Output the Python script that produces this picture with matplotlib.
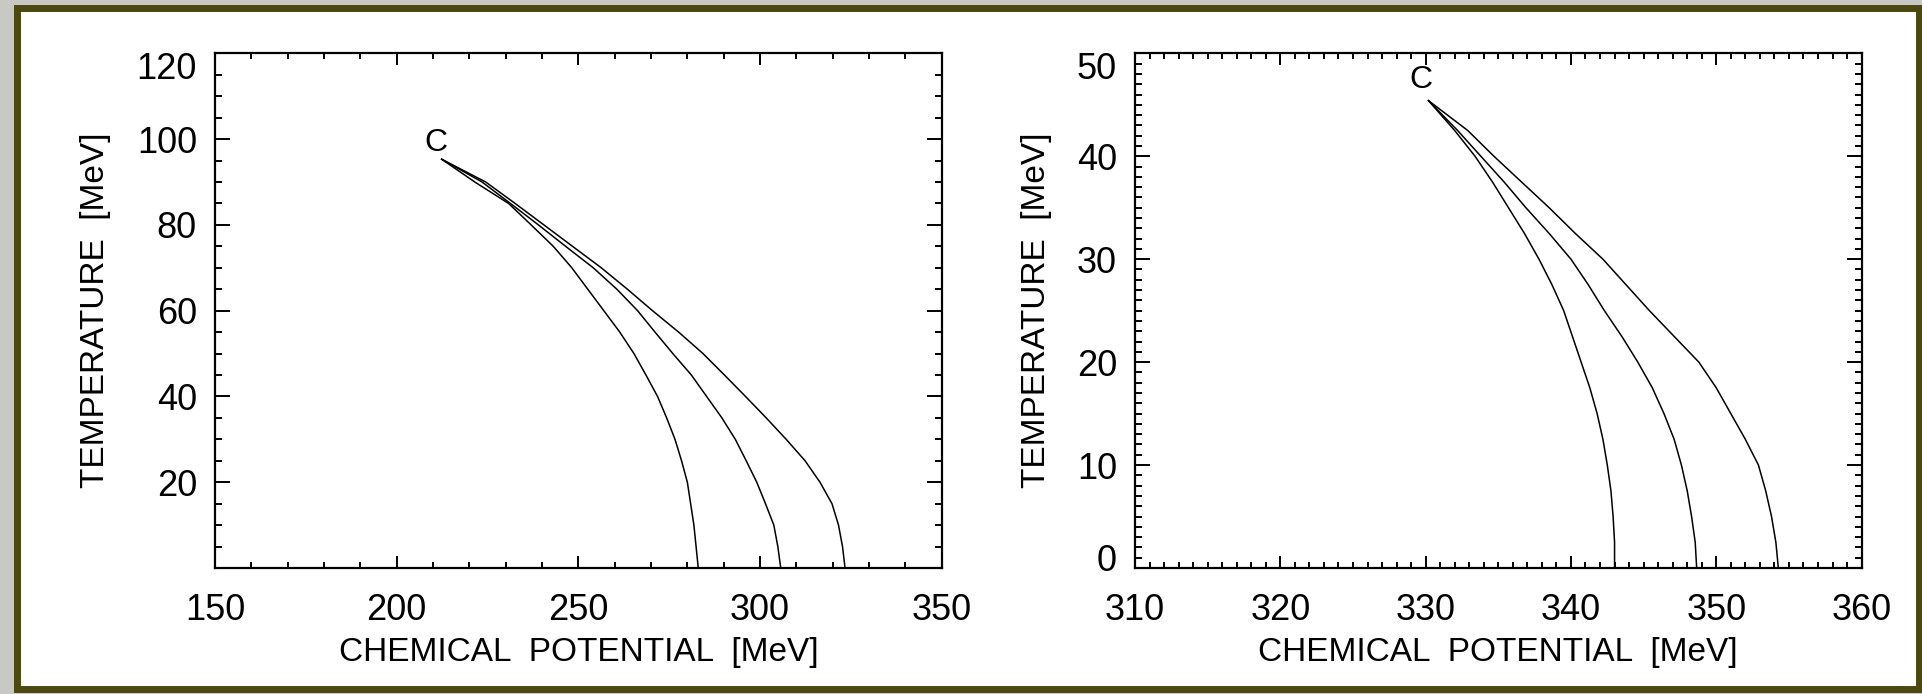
import matplotlib
matplotlib.use("Agg")
import matplotlib.pyplot as plt
from matplotlib.patches import Rectangle
from matplotlib.ticker import MultipleLocator
from matplotlib.transforms import ScaledTranslation

plt.rcParams['font.family'] = ['Liberation Sans', 'DejaVu Sans']

# phase boundaries, left panel (T in MeV, mu in MeV)
t_left = [95.3, 90, 85, 80, 75, 70, 65, 60, 55, 50, 45, 40, 35, 30, 25, 20, 15, 10, 5, 0]
mu_left_a = [212.4, 221.5, 230.8, 237.0, 243.1, 248.2, 252.6, 257.0, 261.4, 265.3, 268.6, 271.8,
             274.3, 276.6, 278.4, 280.0, 280.9, 281.8, 282.4, 283.0]
mu_left_b = [212.4, 223.5, 231.3, 239.0, 246.5, 254.1, 260.6, 266.3, 271.1, 276.0, 281.1, 285.3,
             289.5, 293.2, 296.2, 299.1, 301.5, 303.8, 304.9, 305.7]
mu_left_c = [212.4, 224.5, 232.6, 240.5, 248.4, 256.3, 263.5, 270.4, 277.6, 284.3, 290.2, 296.0,
             301.7, 307.2, 312.4, 316.5, 319.8, 321.6, 322.7, 323.4]
cep_left = (210.9, 99.0)

# right panel
t_right = [45.4, 42.5, 40, 37.5, 35, 32.5, 30, 27.5, 25, 22.5, 20, 17.5, 15, 12.5, 10, 7.5, 5, 2.5, 0]
mu_right_a = [330.2, 332.0, 333.4, 334.6, 335.7, 336.8, 337.8, 338.7, 339.5, 340.1, 340.7, 341.3,
              341.8, 342.2, 342.5, 342.75, 342.9, 343.0, 343.0]
mu_right_b = [330.2, 332.2, 333.8, 335.4, 336.9, 338.5, 340.0, 341.2, 342.3, 343.5, 344.6, 345.6,
              346.4, 347.1, 347.6, 348.0, 348.3, 348.55, 348.65]
mu_right_c = [330.2, 332.9, 334.7, 336.6, 338.5, 340.3, 342.2, 343.8, 345.4, 347.1, 348.8, 350.0,
              351.0, 352.0, 352.9, 353.4, 353.8, 354.1, 354.27]
cep_right = (329.7, 47.4)

xticks_left = [150, 200, 250, 300, 350]
yticks_left = [20, 40, 60, 80, 100, 120]
xticks_right = [310, 320, 330, 340, 350, 360]
yticks_right = [0, 10, 20, 30, 40, 50]

fig = plt.figure(figsize=(19.22, 6.94), dpi=100)
fig.set_facecolor('#c8c8c4')
fig.patches.append(Rectangle((0.00903, 0.0072), 0.98941, 0.98149, transform=fig.transFigure,
                             facecolor='white', edgecolor='#4b4910', linewidth=5, zorder=-10))

ax1 = fig.add_axes([0.11186, 0.18156, 0.3781, 0.7416])
ax2 = fig.add_axes([0.59053, 0.18156, 0.37805, 0.7416])


def style(ax, xminor, yminor):
    for s in ax.spines.values():
        s.set_linewidth(1.6)
    ax.xaxis.set_minor_locator(MultipleLocator(xminor))
    ax.yaxis.set_minor_locator(MultipleLocator(yminor))
    ax.tick_params(which='both', direction='in', top=True, right=True, width=1.4)
    ax.tick_params(axis='x', which='major', length=8.3, pad=18, labelsize=26)
    ax.tick_params(axis='x', which='minor', length=4.3)
    ax.tick_params(axis='y', which='major', length=10.8, pad=13, labelsize=26)
    ax.tick_params(axis='y', which='minor', length=5)
    ax.set_xlabel('CHEMICAL  POTENTIAL  [MeV]', fontsize=24)
    ax.set_ylabel('TEMPERATURE  [MeV]', fontsize=24)
    ax.xaxis.label.set_va('center')
    ax.yaxis.label.set_va('center')


for mu in (mu_left_a, mu_left_b, mu_left_c):
    ax1.plot(mu, t_left, color='black', lw=1.1)
ax1.text(*cep_left, 'C', fontsize=23, ha='center', va='center')
ax1.set_xlim(150, 350)
ax1.set_ylim(0, 120)
ax1.set_xticks(xticks_left)
ax1.set_yticks(yticks_left)
style(ax1, 10, 5)
ax1.xaxis.set_label_coords(0.5, -0.165)
ax1.yaxis.set_label_coords(-0.164, 0.5)

for mu in (mu_right_a, mu_right_b, mu_right_c):
    ax2.plot(mu, t_right, color='black', lw=1.1)
ax2.text(*cep_right, 'C', fontsize=23, ha='center', va='center')
ax2.set_xlim(310, 360)
ax2.set_ylim(0, 50)
ax2.set_xticks(xticks_right)
ax2.set_yticks(yticks_right)
style(ax2, 1, 1)
ax2.xaxis.set_label_coords(0.5, -0.165)
ax2.yaxis.set_label_coords(-0.136, 0.5)

# pull the end labels of the T axis inside the frame
down = ScaledTranslation(0, -12 / 100, fig.dpi_scale_trans)
up = ScaledTranslation(0, 10 / 100, fig.dpi_scale_trans)
for ax in (ax1, ax2):
    ticks = ax.yaxis.get_major_ticks()
    lab = ticks[-1].label1
    lab.set_transform(lab.get_transform() + down)
lab = ax2.yaxis.get_major_ticks()[0].label1
lab.set_transform(lab.get_transform() + up)

fig.savefig('out.png', dpi=100, facecolor=fig.get_facecolor())
